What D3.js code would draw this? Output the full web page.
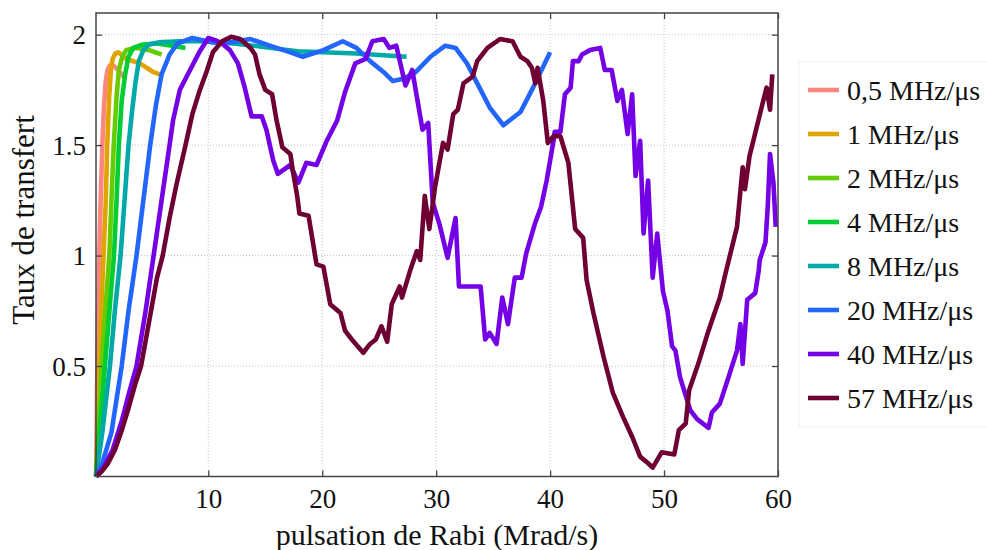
<!DOCTYPE html>
<html><head><meta charset="utf-8">
<script src="https://cdn.jsdelivr.net/npm/d3@7"></script>
<style>
html,body{margin:0;padding:0;background:#fff;}
svg{display:block;}
text{font-family:"Liberation Serif","Times New Roman",serif;fill:#111;}
</style></head>
<body>
<svg id="chart" width="987" height="550"></svg>
<script>
// ---- data ----
const seriesNames = ["0,5 MHz/\u03bcs","1 MHz/\u03bcs","2 MHz/\u03bcs","4 MHz/\u03bcs","8 MHz/\u03bcs","20 MHz/\u03bcs","40 MHz/\u03bcs","57 MHz/\u03bcs"];
const seriesColors = ["#ff8580","#e0a400","#66cc00","#00cc33","#00a8a8","#2266ff","#7400e6","#6e0033"];
const xTicks = [10,20,30,40,50,60];
const yTicks = [0.5,1,1.5,2];

const s05 = [[0.15,0],[0.2,0.2],[0.26,0.5],[0.34,0.75],[0.43,1.0],[0.55,1.25],[0.7,1.5],[0.85,1.68],[1.0,1.79],[1.15,1.84],[1.35,1.86],[1.65,1.86],[2.0,1.845],[2.4,1.82],[2.7,1.80]];
const s1 = [[0.15,0],[0.3,0.25],[0.43,0.5],[0.6,0.75],[0.8,1.0],[1.0,1.25],[1.13,1.5],[1.3,1.72],[1.45,1.84],[1.6,1.89],[1.85,1.915],[2.1,1.92],[2.8,1.89],[4.0,1.87],[5.2,1.83],[6.0,1.815]];
const s2 = [[0.15,0],[0.35,0.2],[0.64,0.5],[1.0,0.78],[1.31,1.0],[1.5,1.25],[1.7,1.5],[1.95,1.72],[2.15,1.84],[2.45,1.9],[2.8,1.93],[3.7,1.94],[4.8,1.93],[5.9,1.91]];
const s4 = [[0.15,0],[0.45,0.2],[0.93,0.5],[1.35,0.77],[1.72,1.0],[1.95,1.25],[2.15,1.5],[2.4,1.7],[2.7,1.82],[3.0,1.9],[3.4,1.94],[4.2,1.955],[5.5,1.96],[6.8,1.95],[8.0,1.94]];
const s8 = [[0.15,0],[0.7,0.2],[1.37,0.5],[1.8,0.75],[2.3,1.0],[2.65,1.25],[3.0,1.5],[3.3,1.65],[3.6,1.78],[3.9,1.88],[4.3,1.93],[4.8,1.955],[5.6,1.965],[7.5,1.97],[9.3,1.97],[12.2,1.96],[14.0,1.95],[17.8,1.925],[20.0,1.92],[23.0,1.915],[27.4,1.90]];
const s20 = [[0.15,0],[0.7,0.06],[1.5,0.2],[2.4,0.5],[3.0,0.75],[3.7,1.0],[4.3,1.25],[4.9,1.5],[5.4,1.68],[5.9,1.82],[6.6,1.91],[7.3,1.96],[8.6,1.985],[10.4,1.965],[11.9,1.965],[13.7,1.98],[15.4,1.95],[17.2,1.92],[18.3,1.90],[20.1,1.93],[21.8,1.97],[23.0,1.94],[24.2,1.88],[25.4,1.83],[26.2,1.79],[27.1,1.80],[28.2,1.83],[29.5,1.90],[30.8,1.95],[31.7,1.94],[32.7,1.87],[33.9,1.75],[34.7,1.67],[35.9,1.59],[37.4,1.65],[38.5,1.76],[40.0,1.92]];
const s40 = [[0.15,0],[0.8,0.04],[1.6,0.12],[2.4,0.25],[3.0,0.37],[3.7,0.5],[4.5,0.75],[5.2,1.0],[5.9,1.25],[6.6,1.5],[6.9,1.61],[7.5,1.75],[8.4,1.84],[9.2,1.92],[10.0,1.985],[10.6,1.975],[11.2,1.96],[11.9,1.93],[12.6,1.87],[13.2,1.76],[13.8,1.63],[14.7,1.63],[15.1,1.57],[15.7,1.43],[16.1,1.37],[17.2,1.41],[17.9,1.33],[18.6,1.42],[19.5,1.41],[20.4,1.52],[21.3,1.61],[22.0,1.74],[22.9,1.87],[23.8,1.89],[24.4,1.97],[25.4,1.98],[25.9,1.94],[26.5,1.95],[27.3,1.77],[27.9,1.84],[28.3,1.72],[28.8,1.57],[29.3,1.60],[29.7,1.24],[30.3,1.14],[31.0,0.99],[31.7,1.17],[32.0,0.86],[33.9,0.86],[34.3,0.62],[34.7,0.65],[35.3,0.60],[35.8,0.81],[36.3,0.69],[36.9,0.90],[37.5,0.90],[37.9,1.01],[38.7,1.15],[39.2,1.22],[39.7,1.34],[40.3,1.52],[40.4,1.56],[40.9,1.56],[41.3,1.73],[41.8,1.76],[42.0,1.88],[42.5,1.88],[42.8,1.91],[43.5,1.93],[44.4,1.94],[44.8,1.84],[45.4,1.84],[45.9,1.70],[46.3,1.75],[46.8,1.55],[47.2,1.73],[47.5,1.36],[47.9,1.52],[48.2,1.10],[48.6,1.34],[49.0,0.90],[49.4,1.10],[49.9,0.84],[50.3,0.75],[50.7,0.59],[51.0,0.57],[51.4,0.45],[51.7,0.40],[52.3,0.30],[52.9,0.26],[53.9,0.22],[54.2,0.29],[54.9,0.33],[55.6,0.44],[56.4,0.57],[56.7,0.69],[56.9,0.51],[57.3,0.80],[58.0,0.83],[58.3,0.93],[58.4,0.98],[58.9,1.06],[59.1,1.22],[59.3,1.46],[59.6,1.33],[59.8,1.13]];
const s57 = [[0.15,0],[0.6,0.02],[1.2,0.06],[1.8,0.12],[2.35,0.2],[3.0,0.31],[3.6,0.42],[4.1,0.5],[4.8,0.7],[5.5,0.9],[6.0,1.0],[6.6,1.17],[7.2,1.32],[8.0,1.5],[8.6,1.64],[9.2,1.74],[9.9,1.84],[10.4,1.92],[11.2,1.97],[12.0,1.99],[12.8,1.98],[13.7,1.94],[14.1,1.91],[14.5,1.82],[15.0,1.75],[15.6,1.73],[16.0,1.61],[16.5,1.49],[17.2,1.46],[17.4,1.39],[17.8,1.27],[18.0,1.19],[18.8,1.18],[19.5,0.96],[20.1,0.95],[20.7,0.78],[21.6,0.74],[22.0,0.66],[22.6,0.62],[23.6,0.56],[24.2,0.60],[24.7,0.62],[25.2,0.68],[25.7,0.61],[26.1,0.78],[26.8,0.86],[27.0,0.81],[27.7,0.93],[28.3,1.02],[28.6,0.98],[29.0,1.27],[29.4,1.12],[29.9,1.31],[30.6,1.51],[31.0,1.48],[31.5,1.64],[31.9,1.66],[32.4,1.78],[33.2,1.81],[33.6,1.88],[34.5,1.94],[35.6,1.98],[36.7,1.97],[37.4,1.90],[38.0,1.88],[38.4,1.85],[38.7,1.78],[38.9,1.85],[39.4,1.70],[39.8,1.51],[40.3,1.54],[40.9,1.54],[41.6,1.42],[42.2,1.12],[42.9,1.08],[43.2,0.89],[43.8,0.74],[44.7,0.54],[45.5,0.38],[46.4,0.27],[47.2,0.18],[47.9,0.09],[48.6,0.06],[49.0,0.04],[49.8,0.11],[50.9,0.10],[51.3,0.21],[51.9,0.24],[52.2,0.39],[53.0,0.51],[53.9,0.66],[54.9,0.81],[55.3,0.90],[56.4,1.13],[56.9,1.40],[57.1,1.30],[57.5,1.45],[58.7,1.70],[59.0,1.76],[59.3,1.66],[59.5,1.82]];
const seriesData = [s05, s1, s2, s4, s8, s20, s40, s57];

// ---- layout ----
const svg = d3.select("#chart");
const L = 96, R = 778, T = 13, B = 476.5;
const x = d3.scaleLinear().domain([0.144, 60]).range([L, R]);
const y = d3.scaleLinear().domain([0, 2.098]).range([B, T]);

// grid
const grid = svg.append("g").attr("stroke", "#c4c4c4").attr("stroke-width", 1).attr("stroke-dasharray", "1,2");
grid.selectAll("line.gx").data(xTicks.filter(d => d < 60)).join("line")
  .attr("x1", d => x(d)).attr("x2", d => x(d)).attr("y1", T).attr("y2", B);
grid.selectAll("line.gy").data(yTicks).join("line")
  .attr("x1", L).attr("x2", R).attr("y1", d => y(d)).attr("y2", d => y(d));

// curves
const line = d3.line().x(d => x(d[0])).y(d => y(d[1]));
svg.append("g").selectAll("path").data(seriesData).join("path")
  .attr("d", line)
  .attr("fill", "none")
  .attr("stroke", (d, i) => seriesColors[i])
  .attr("stroke-width", 4.6)
  .attr("stroke-linejoin", "round")
  .attr("stroke-linecap", "butt");

// axes (ticks inward)
const axisColor = "#444";
const gBottom = svg.append("g").attr("transform", `translate(0,${B})`)
  .call(d3.axisBottom(x).tickValues(xTicks).tickSizeInner(-6).tickSizeOuter(0).tickPadding(12));
const gTop = svg.append("g").attr("transform", `translate(0,${T})`)
  .call(d3.axisTop(x).tickValues(xTicks).tickSizeInner(-6).tickSizeOuter(0).tickFormat(""));
const gLeft = svg.append("g").attr("transform", `translate(${L},0)`)
  .call(d3.axisLeft(y).tickValues(yTicks).tickSizeInner(-6).tickSizeOuter(0).tickPadding(10).tickFormat(d => String(d)));
const gRight = svg.append("g").attr("transform", `translate(${R},0)`)
  .call(d3.axisRight(y).tickValues(yTicks).tickSizeInner(-6).tickSizeOuter(0).tickFormat(""));
[gBottom, gTop, gLeft, gRight].forEach(g => {
  g.select(".domain").remove();
  g.selectAll("line").attr("stroke", axisColor).attr("stroke-width", 1.3);
  g.selectAll("text").attr("fill", "#111").style("font-family", '"Liberation Serif",serif').style("font-size", "27px");
});
gBottom.selectAll("text").attr("dy", "0.71em");
gLeft.selectAll("text").attr("dy", "0.34em");

svg.append("rect").attr("x", L).attr("y", T).attr("width", R - L).attr("height", B - T)
  .attr("fill", "none").attr("stroke", axisColor).attr("stroke-width", 1.5);

// axis titles
svg.append("text").attr("x", (L + R) / 2).attr("y", 545).attr("text-anchor", "middle")
  .style("font-size", "30px").text("pulsation de Rabi (Mrad/s)");
svg.append("text").attr("transform", `translate(34,220) rotate(-90)`).attr("text-anchor", "middle")
  .style("font-size", "31px").text("Taux de transfert");

// legend
const lg = svg.append("g");
lg.append("rect").attr("x", 799).attr("y", 62).attr("width", 200).attr("height", 365)
  .attr("fill", "#fff").attr("stroke", "#efefef").attr("stroke-width", 1);
const items = lg.selectAll("g.it").data(seriesNames).join("g")
  .attr("transform", (d, i) => `translate(0,${90 + i * 44})`);
items.append("line").attr("x1", 808).attr("x2", 839).attr("y1", 0).attr("y2", 0)
  .attr("stroke", (d, i) => seriesColors[i]).attr("stroke-width", 4.6);
items.append("text").attr("x", 847).attr("y", 0).attr("dy", "0.35em")
  .style("font-size", "28px").text(d => d);
</script>
</body></html>
